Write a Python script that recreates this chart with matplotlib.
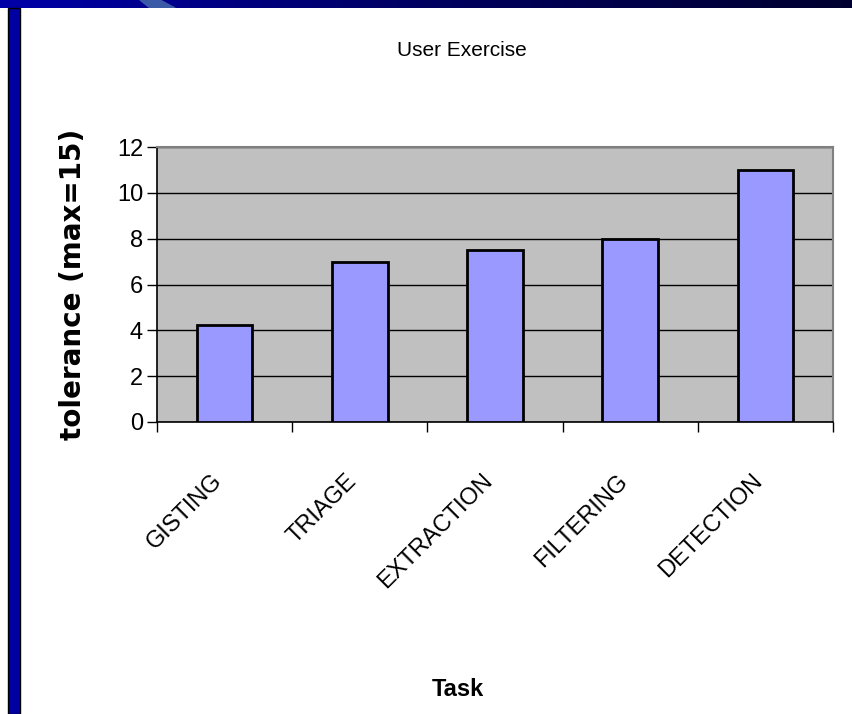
import numpy as np
import matplotlib
matplotlib.use('Agg')
import matplotlib.pyplot as plt
import matplotlib.transforms as mtransforms
from matplotlib.patches import Rectangle, Polygon

tasks = ['GISTING', 'TRIAGE', 'EXTRACTION', 'FILTERING', 'DETECTION']
tolerance = [4.25, 7.0, 7.5, 8.0, 11.0]
yticks = [0, 2, 4, 6, 8, 10, 12]

plt.rcParams['font.family'] = ['Liberation Sans', 'DejaVu Sans']

W, H = 852, 714
fig = plt.figure(figsize=(W / 100, H / 100), dpi=100)

# slide decoration: navy band on top, blue bar on the left
grad = np.linspace(0, 1, 256).reshape(1, -1)
band = fig.add_axes([0, 1 - 8 / H, 1, 8 / H])
band.imshow(grad, aspect='auto', extent=[0, 1, 0, 1],
            cmap=matplotlib.colors.LinearSegmentedColormap.from_list('nv', ['#0000a8', '#000060', '#000030']))
band.add_patch(Polygon([[140 / W, 1], [160 / W, 1], [175 / W, 0], [150 / W, 0]],
                       closed=True, color='#3a5aa8'))
band.set_xlim(0, 1)
band.set_ylim(0, 1)
band.axis('off')
fig.patches.append(Rectangle((8 / W, 0), 12 / W, 1 - 8 / H, transform=fig.transFigure,
                             facecolor='#0000a0', edgecolor='black', linewidth=1.0))

ax = fig.add_axes([157 / W, 1 - 422 / H, 676 / W, 275 / H])
x = np.arange(len(tasks))
ax.set_facecolor('#c0c0c0')
ax.bar(x, tolerance, width=0.41, color='#9999ff', edgecolor='black', linewidth=2.0, zorder=3)

ax.set_xlim(-0.5, len(tasks) - 0.5)
ax.set_ylim(0, 12)
ax.set_yticks(yticks)
ax.tick_params(axis='y', labelsize=17, length=7, width=1, direction='out', pad=3)
ax.yaxis.grid(True, color='black', linewidth=1)
ax.set_axisbelow(True)

ax.set_xticks(x)
ax.set_xticks(np.arange(-0.5, len(tasks)), minor=True)
ax.tick_params(axis='x', which='major', length=0, pad=0)
ax.tick_params(axis='x', which='minor', length=7, width=1, direction='out')
ax.set_xticklabels(tasks, rotation=45, ha='right', va='top', rotation_mode='anchor', fontsize=17)
offset = mtransforms.ScaledTranslation(-0.14, -0.48, fig.dpi_scale_trans)
for lab in ax.get_xticklabels():
    lab.set_transform(lab.get_transform() + offset)

for s in ['left', 'bottom']:
    ax.spines[s].set_color('black')
    ax.spines[s].set_linewidth(1.2)
for s in ['top', 'right']:
    ax.spines[s].set_color('#808080')
    ax.spines[s].set_linewidth(1.5)

ax.set_ylabel('tolerance (max=15)', family='DejaVu Sans', fontweight='bold', fontsize=20,
              va='center')
ax.yaxis.set_label_coords((73 - 157) / 676, 0.5)

fig.text(462 / W, 1 - 50 / H, 'User Exercise', ha='center', va='center', fontsize=15)
fig.text(458 / W, 1 - 690 / H, 'Task', ha='center', va='center', fontsize=17, fontweight='bold')

fig.savefig('out.png', dpi=100)
